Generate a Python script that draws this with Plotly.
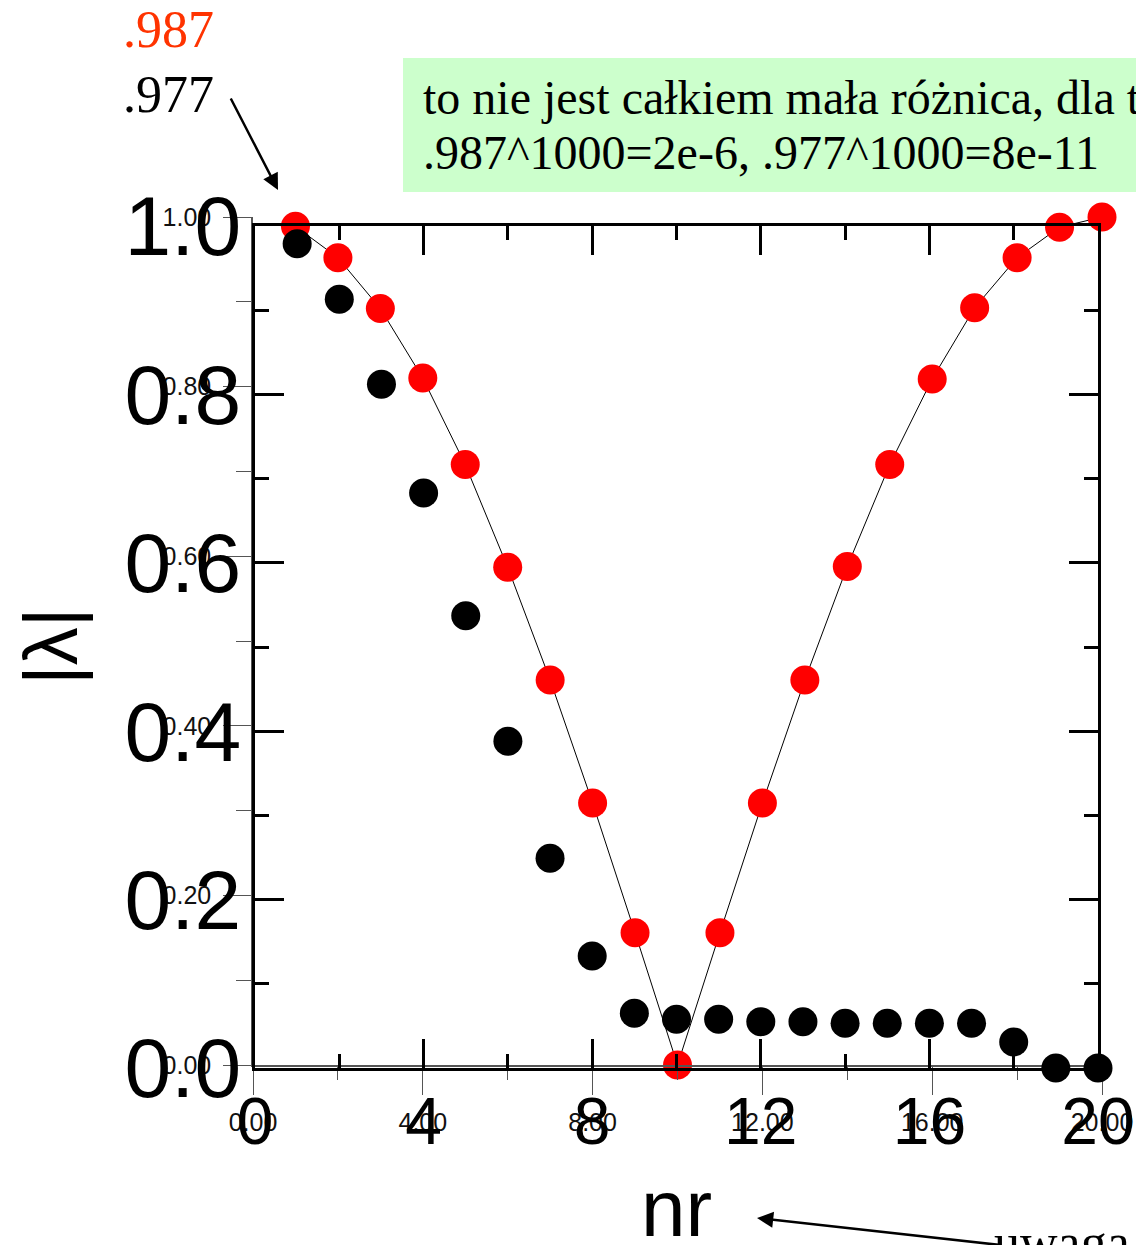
import plotly.graph_objects as go

W, H = 1136, 1245

# ---------------- data ----------------
nr = list(range(1, 21))
red_vals = [0.989, 0.952, 0.892, 0.810, 0.708, 0.587, 0.454, 0.309, 0.156, 0.0,
            0.156, 0.309, 0.454, 0.588, 0.708, 0.809, 0.893, 0.952, 0.988, 1.0]
black_vals = [0.979, 0.913, 0.812, 0.683, 0.537, 0.388, 0.249, 0.133, 0.065, 0.058,
              0.058, 0.055, 0.055, 0.053, 0.053, 0.053, 0.053, 0.031, 0.0, 0.0]

x_tickvals = [0, 4, 8, 12, 16, 20]
x_small_labels = ["0.00", "4.00", "8.00", "12.00", "16.00", "20.00"]
x_big_labels = ["0", "4", "8", "12", "16", "20"]
y_tickvals = [0, 0.2, 0.4, 0.6, 0.8, 1.0]
y_small_labels = ["0.00", "0.20", "0.40", "0.60", "0.80", "1.00"]
y_big_labels = ["0.0", "0.2", "0.4", "0.6", "0.8", "1.0"]


def px(x):
    return x / W


def py(y):
    return 1 - y / H


fig = go.Figure()

# red series with connecting line (thin grey axis system)
fig.add_trace(go.Scatter(
    x=nr, y=red_vals, mode="lines+markers",
    line=dict(color="black", width=1),
    marker=dict(color="#ff0000", size=29, line=dict(width=0)),
    cliponaxis=False, xaxis="x", yaxis="y", showlegend=False))

# black series (thick framed axis system)
fig.add_trace(go.Scatter(
    x=nr, y=black_vals, mode="markers",
    marker=dict(color="black", size=29, line=dict(width=0)),
    cliponaxis=False, xaxis="x2", yaxis="y2", showlegend=False))

SANS = "Liberation Sans, Arial, sans-serif"
SERIF = "Liberation Serif, Times New Roman, serif"

fig.update_layout(
    width=W, height=H,
    margin=dict(l=0, r=0, t=0, b=0, autoexpand=False),
    paper_bgcolor="white",
    plot_bgcolor="rgba(0,0,0,0)",
    xaxis=dict(
        domain=[px(253), px(1102)], range=[0, 20], anchor="y", automargin=False,
        showgrid=False, zeroline=False,
        showline=True, linecolor="#555555", linewidth=1.5,
        ticks="outside", ticklen=28, tickwidth=1, tickcolor="#555555",
        tickvals=x_tickvals, ticktext=x_small_labels,
        tickfont=dict(family=SANS, size=25, color="#111111"),
        ticklabelstandoff=6,
        minor=dict(dtick=2, ticks="outside", ticklen=13, tickwidth=1, tickcolor="#555555"),
    ),
    yaxis=dict(
        domain=[py(1065), py(217)], range=[0, 1], anchor="x", automargin=False,
        showgrid=False, zeroline=False,
        showline=True, linecolor="#555555", linewidth=1.5,
        ticks="outside", ticklen=28, tickwidth=1, tickcolor="#555555",
        tickvals=y_tickvals, ticktext=y_small_labels,
        tickfont=dict(family=SANS, size=25, color="#111111"),
        ticklabelstandoff=7,
        minor=dict(dtick=0.1, ticks="outside", ticklen=15, tickwidth=1, tickcolor="#555555"),
    ),
    xaxis2=dict(
        domain=[px(255), px(1098)], range=[0, 20], anchor="y2", automargin=False,
        showgrid=False, zeroline=False,
        showline=True, linecolor="black", linewidth=3, mirror="allticks",
        ticks="inside", ticklen=29, tickwidth=3, tickcolor="black",
        tickvals=x_tickvals, ticktext=x_big_labels,
        tickfont=dict(family=SANS, size=66, color="black"),
        ticklabelstandoff=-6,
        minor=dict(dtick=2, ticks="inside", ticklen=14, tickwidth=3, tickcolor="black"),
    ),
    yaxis2=dict(
        domain=[py(1068), py(226)], range=[0, 1], anchor="x2", automargin=False,
        showgrid=False, zeroline=False,
        showline=True, linecolor="black", linewidth=3, mirror="allticks",
        ticks="inside", ticklen=29, tickwidth=3, tickcolor="black",
        tickvals=y_tickvals, ticktext=y_big_labels,
        tickfont=dict(family=SANS, size=84, color="black"),
        ticklabelstandoff=-6,
        minor=dict(dtick=0.1, ticks="inside", ticklen=14, tickwidth=3, tickcolor="black"),
    ),
)

# green note box
fig.add_shape(type="rect", xref="paper", yref="paper",
              x0=px(403), x1=px(1145), y0=py(192), y1=py(58),
              fillcolor="#ccffcc", line=dict(width=0), layer="below")

ann = []
ann.append(dict(text=".987", x=px(168), y=py(29.5), xanchor="center", yanchor="middle",
                font=dict(family=SERIF, size=52, color="#ff3300")))
ann.append(dict(text=".977", x=px(168), y=py(94.5), xanchor="center", yanchor="middle",
                font=dict(family=SERIF, size=52, color="black")))
ann.append(dict(text="to nie jest całkiem mała różnica, dla t", x=px(421), y=py(97),
                xanchor="left", yanchor="middle",
                font=dict(family=SERIF, size=48, color="black")))
ann.append(dict(text=".987^1000=2e-6, .977^1000=8e-11", x=px(421), y=py(152),
                xanchor="left", yanchor="middle",
                font=dict(family=SERIF, size=48, color="black")))
# arrow from .977 to first point
ann.append(dict(text="", x=px(278), y=py(190), showarrow=True, ax=-48, ay=-93,
                arrowhead=2, arrowsize=1.3, arrowwidth=2.5, arrowcolor="black"))
# axis titles
ann.append(dict(text="nr", x=px(676), y=py(1208), xanchor="center", yanchor="middle",
                font=dict(family=SANS, size=80, color="black")))
ann.append(dict(text="|λ|", x=px(50), y=py(647), xanchor="center", yanchor="middle",
                textangle=-90, font=dict(family=SANS, size=76, color="black")))
# bottom note and arrow
ann.append(dict(text="uwaga", x=px(992), y=py(1242), xanchor="left", yanchor="middle",
                font=dict(family=SERIF, size=52, color="black")))
ann.append(dict(text="", x=px(757), y=py(1218), showarrow=True, ax=243, ay=44,
                arrowhead=2, arrowsize=1.3, arrowwidth=2.5, arrowcolor="black"))

for a in ann:
    a.setdefault("showarrow", False)
    a["xref"] = "paper"
    a["yref"] = "paper"
fig.update_layout(annotations=ann)

fig.write_html("out.html", config={"displayModeBar": False},
               post_script="document.body.style.margin='0';document.body.style.overflow='hidden';")
